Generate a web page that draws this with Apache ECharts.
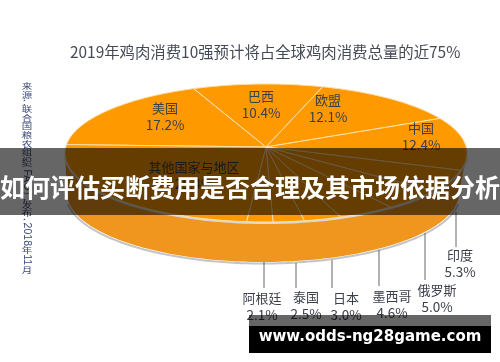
<!DOCTYPE html>
<html><head><meta charset="utf-8">
<style>html,body{margin:0;padding:0;background:#fff}#c{width:500px;height:362px}</style>
<script src="https://cdn.jsdelivr.net/npm/echarts@6/dist/echarts.min.js"></script>
</head><body><div id="c"></div>
<script>
const titleText = '2019年鸡肉消费10强预计将占全球鸡肉消费总量的近75%';
const categories = ['美国','巴西','欧盟','中国','印度','俄罗斯','墨西哥','日本','泰国','阿根廷','其他国家与地区'];
const shares = [17.2,10.4,12.1,12.4,5.3,5.0,4.6,3.0,2.5,2.1,25.4];
const sourceRuns = ['来','源','：','联','合','国','粮','农','组','织','（FAO）','，','发','布','：','2018','年','11','月'];
const headline = '如何评估买断费用是否合理及其市场依据分析';
const siteName = 'www.odds-ng28game.com';

// layout only
const labelAt = [[165,108],[261,96],[328,100],[421,128],[460,255],[437,290],[392,296],[346,298],[306,297],[262,298],[194,167]];
const leaders = [null,null,null,null,[456,212,247],[425,233,280],[379,250,286],[332,260,288],[296,263,288],[264,262,288],null];
const upper = {cx:266,cy:153,rx:201,ry:69,ax:266,ay:147};
const lower = {cx:263,cy:193,rx:196,ry:69};
const startDeg = 187;

const total = shares.reduce((a,b)=>a+b,0);
const pt = (e,deg)=>{const t=deg*Math.PI/180;return [e.cx+e.rx*Math.cos(t), e.cy+e.ry*Math.sin(t)];};
function arc(e,a,b){const n=Math.max(2,Math.ceil(Math.abs(b-a)/1.5));const p=[];for(let i=0;i<=n;i++)p.push(pt(e,a+(b-a)*i/n));return p;}

function renderBody(){
  return {type:'group',children:[
    {type:'polygon',shape:{points:arc(lower,0,180).concat(arc(upper,180,0))},style:{fill:'#F0951E'}},
    {type:'polyline',shape:{points:arc({cx:lower.cx,cy:lower.cy+1.5,rx:lower.rx+1,ry:lower.ry},8,172)},style:{fill:null,stroke:'#C4C4C4',lineWidth:2}},
    {type:'polyline',shape:{points:arc({cx:upper.cx,cy:upper.cy+1,rx:upper.rx,ry:upper.ry},2,178)},style:{fill:null,stroke:'#D9D9D9',lineWidth:2}}
  ]};
}
function renderSlice(params,api){
  const i = params.dataIndex, v = api.value(0);
  let before = 0; for(let k=0;k<i;k++) before += shares[k];
  const a = startDeg + before/total*360, b = a + v/total*360;
  const pts = [[upper.ax,upper.ay]].concat(arc(upper,a,b));
  return {type:'polygon',shape:{points:pts},style:{fill:'#FF9900',stroke:'#FFE0A8',lineWidth:1}};
}
function renderLabel(params,api){
  const i = params.dataIndex, v = api.value(0);
  const [x,y] = labelAt[i];
  const ch = [
    {type:'text',style:{x,y,text:categories[i],align:'center',verticalAlign:'middle',font:'13px "Noto Sans CJK SC"',fill:'#3a3f4a'}},
    {type:'text',style:{x,y:y+17,text:v.toFixed(1)+'%',align:'center',verticalAlign:'middle',font:'13.5px "Noto Sans CJK SC"',fill:'#3a3f4a'}}
  ];
  if(leaders[i]){const [lx,y1,y2]=leaders[i];ch.push({type:'line',shape:{x1:lx,y1,x2:lx,y2},style:{stroke:'#666',lineWidth:1}});}
  return {type:'group',children:ch};
}

// vertical source note
const src = [];
let sy = 82;
const srcStyle = {font:'10.5px "Noto Sans CJK SC"',fill:'#3d4a78',align:'center',verticalAlign:'middle'};
for(const run of sourceRuns){
  const sideways = run.length>1;
  const h = run.length>1 ? (run.startsWith('（')?30:run.length*5.6) : (/[：，]/.test(run)?5.5:8.6);
  src.push({type:'text',x:27,y:sy+h/2,rotation:sideways?-Math.PI/2:0,scaleY:sideways?1:.8,z:5,
    style:Object.assign({text:run},srcStyle,sideways?{font:'10.5px "Liberation Sans"'}:{})});
  sy += h;
}

const chart = echarts.init(document.getElementById('c'),null,{renderer:'canvas'});
chart.setOption({
  animation:false,
  backgroundColor:'#fff',
  title:{text:titleText,left:70,top:44,padding:0,textStyle:{fontFamily:'Noto Sans CJK SC',fontSize:15.4,fontWeight:'normal',color:'#444a55'}},
  series:[
    {type:'custom',coordinateSystem:'none',z:2,data:[[1]],renderItem:renderBody},
    {type:'custom',coordinateSystem:'none',z:3,data:shares.map((v,i)=>({name:categories[i],value:[v]})),renderItem:renderSlice},
    {type:'custom',coordinateSystem:'none',z:4,data:shares.map((v,i)=>({name:categories[i],value:[v]})),renderItem:renderLabel}
  ],
  graphic:{elements:src.concat([
    {type:'rect',z:100,shape:{x:0,y:148,width:500,height:67},style:{fill:'rgba(0,0,0,0.6)'}},
    {type:'text',z:101,x:250,y:187,style:{text:headline,align:'center',verticalAlign:'middle',font:'bold 25px "Noto Sans CJK SC"',fill:'#fff'}},
    {type:'rect',z:100,shape:{x:249,y:315,width:242,height:11},style:{fill:'rgba(0,0,0,0.6)'}},
    {type:'rect',z:100,shape:{x:249,y:326,width:242,height:27},style:{fill:'#000'}},
    {type:'text',z:101,x:370,y:337,style:{text:siteName,align:'center',verticalAlign:'middle',font:'bold 15px "DejaVu Sans"',fill:'#fff'}}
  ])}
});
</script></body></html>
